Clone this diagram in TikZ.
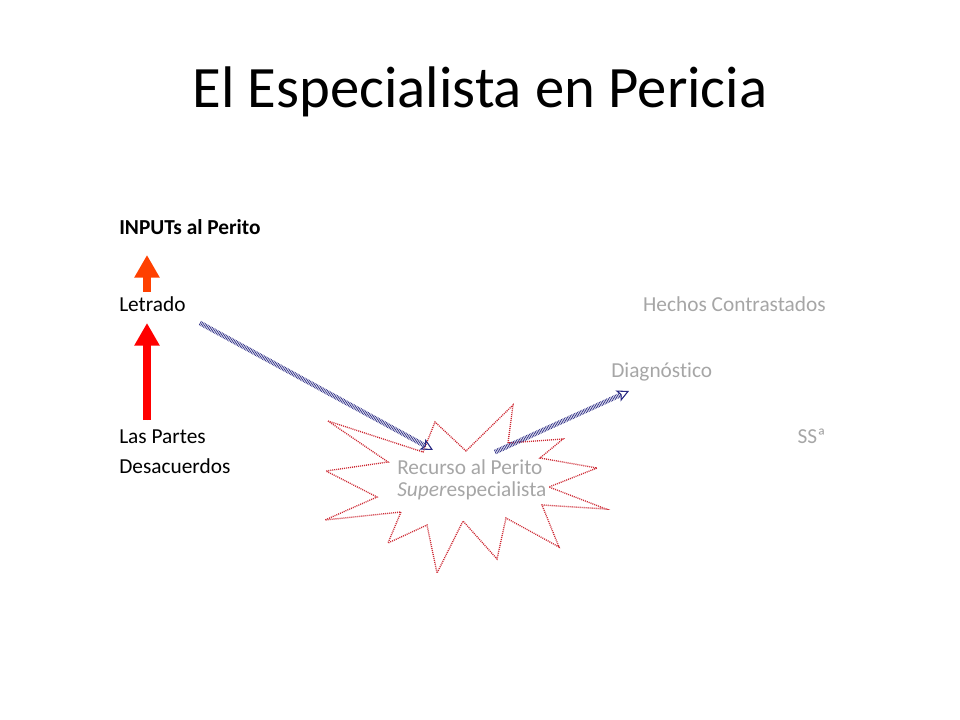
\documentclass[tikz,border=0pt]{standalone}
\usepackage{fontspec}
\setmainfont{Carlito}[Ligatures=CommonOff]
\usetikzlibrary{arrows.meta}
\definecolor{txtgray}{RGB}{166,166,166}
\definecolor{navyblue}{RGB}{40,40,130}
\definecolor{orangered}{RGB}{255,64,0}
\definecolor{purered}{RGB}{255,0,0}
\definecolor{starred}{RGB}{205,40,50}
\begin{document}
\begin{tikzpicture}[x=0.75pt,y=-0.75pt,
  lbl/.style={inner sep=0pt, anchor=base west, font=\fontsize{16}{19}\selectfont},
  lblr/.style={inner sep=0pt, anchor=base east, font=\fontsize{16}{19}\selectfont},
  grey/.style={text=txtgray},
  redarrow/.style={line width=6pt, -{Triangle[length=17pt,width=18pt]}},
  bluearrow/.style={draw=navyblue, line width=3.6pt, dash pattern=on 0.5pt off 0.7pt,
     -{Stealth[length=9pt,width=9pt,inset=2pt,open,line width=0.8pt]}},
  starline/.style={draw=starred, line width=1pt, dash pattern=on 0.75pt off 0.75pt}]
\useasboundingbox (0,0) rectangle (960,720);

% title
\node[inner sep=0pt, anchor=base, font=\fontsize{44}{52}\selectfont] (title) at (480,108) {El Especialista en Pericia};

% left column
\node[lbl, font=\fontsize{16}{19}\selectfont\bfseries] (inputs) at (119,235) {INPUTs al Perito};
\node[lbl] (letrado) at (119,311) {Letrado};
\node[lbl] (partes) at (119,443) {Las Partes};
\node[lbl] (desac) at (119,473) {Desacuerdos};

% right column (grey)
\node[lblr, grey] (hechos) at (826,311) {Hechos Contrastados};
\node[lbl, grey] (diag) at (611,377) {Diagnóst\kern0pt ico};
\node[lblr, grey] (ssa) at (826,443) {SSª};

% explosion star
\draw[starline] (328,421) -- (388,462) -- (326,471) -- (377,497) -- (325,520)
  -- (401,512) -- (388,543) -- (427,525) -- (437,573) -- (463,521)
  -- (497,559) -- (506,518) -- (559,547) -- (542,505) -- (606,509)
  -- (549,487) -- (597,468) -- (540,458) -- (563,439) -- (508,443)
  -- (513,405) -- (466,451) -- (435,422) -- (423,452) -- cycle;
\node[lbl, grey] (recurso) at (397,474) {Recurso al Perito};
\node[lbl, grey] (super) at (397,496) {\textit{Super}especialista};

% red arrows
\coordinate (r1s) at (147,292);
\coordinate (r1e) at (147,255);
\coordinate (r2s) at (147,420);
\coordinate (r2e) at (147,323);
\draw[redarrow, draw=orangered, fill=orangered] (r1s) -- (r1e);
\draw[redarrow, draw=purered, fill=purered] (r2s) -- (r2e);

% blue arrows
\coordinate (b1s) at (200,323);
\coordinate (b1e) at (433,450);
\coordinate (b2s) at (495,452);
\coordinate (b2e) at (629,391);
\draw[bluearrow] (b1s) -- (b1e);
\draw[bluearrow] (b2s) -- (b2e);
\end{tikzpicture}
\end{document}
